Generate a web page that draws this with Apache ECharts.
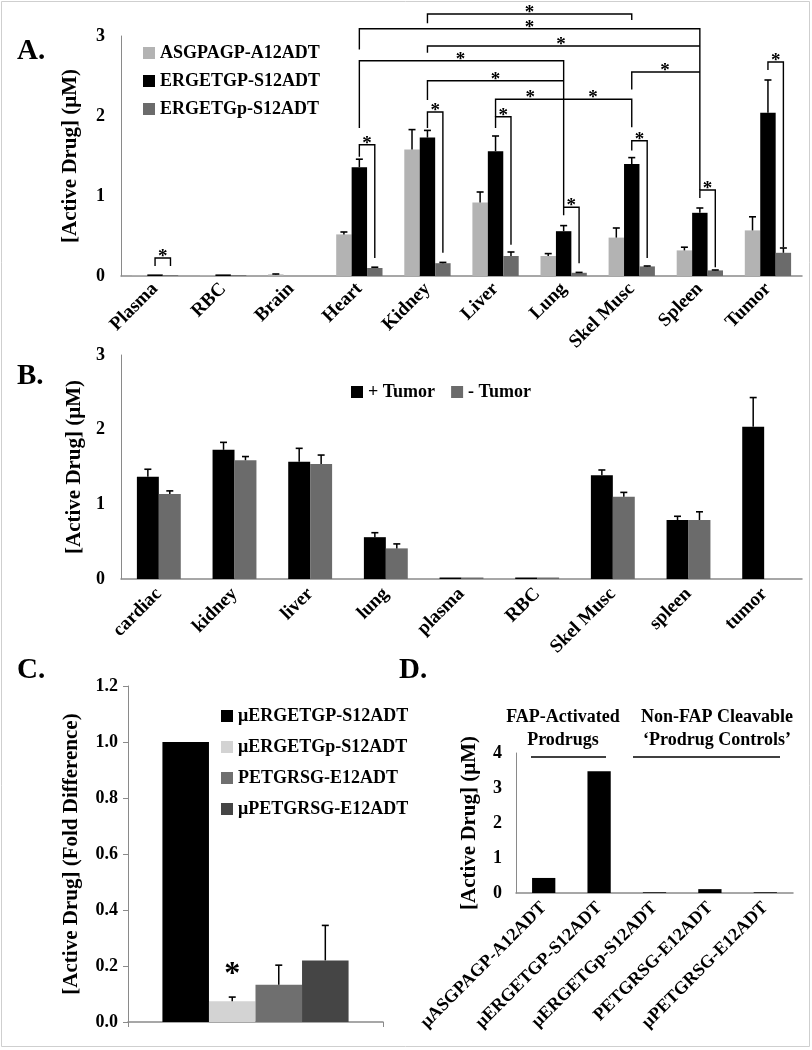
<!DOCTYPE html>
<html><head><meta charset="utf-8">
<script src="https://cdn.jsdelivr.net/npm/echarts@6/dist/echarts.min.js"></script>
<style>html,body{margin:0;padding:0;background:#fff}#c{width:812px;height:1050px}</style>
</head><body><div id="c"></div>
<script>
// ---------- Panel A data ----------
const catsA = ['Plasma','RBC','Brain','Heart','Kidney','Liver','Lung','Skel Musc','Spleen','Tumor'];
const namesA = ['ASGPAGP-A12ADT','ERGETGP-S12ADT','ERGETGp-S12ADT'];
const asgA   = [0.01,0.01,0.02,0.52,1.58,0.92,0.25,0.48,0.32,0.57];
const asgSdA = [0,0,0.005,0.03,0.25,0.13,0.03,0.12,0.04,0.17];
const ergA   = [0.02,0.02,0,1.36,1.73,1.56,0.56,1.40,0.79,2.04];
const ergSdA = [0,0,0,0.10,0.09,0.19,0.07,0.08,0.06,0.41];
const ergpA  = [0.01,0.01,0,0.10,0.16,0.25,0.04,0.12,0.07,0.29];
const ergpSdA= [0,0,0,0.01,0.01,0.05,0.005,0.005,0.005,0.06];
const ticksA = [0,1,2,3];
// significance brackets: [cat1, slot1, cat2, slot2, top, end1, end2, starFrac1, starFrac2]
const bracketsA = [
  [4,1,7,1,3.275,3.16,3.20,0.5,-1],
  [3,1,8,1,3.09,2.83,1.075,0.5,-1],
  [4,1,8,1,2.875,2.79,2.875,0.49,-1],
  [3,1,6,1,2.69,1.85,0.86,0.495,-1],
  [4,1,6,1,2.44,2.20,2.44,0.5,-1],
  [7,1,8,1,2.55,2.33,2.55,0.49,-1],
  [5,1,7,1,2.21,1.99,1.86,0.255,0.715],
  [0,1,0,2,0.225,0.125,0.125,0.5,-1],
  [3,1,3,2,1.64,1.49,0.225,0.5,-1],
  [4,1,4,2,2.05,1.85,0.29,0.5,-1],
  [5,1,5,2,1.99,1.85,0.39,0.5,-1],
  [6,1,6,2,0.86,0.76,0.16,0.5,-1],
  [7,1,7,2,1.69,1.57,0.225,0.5,-1],
  [8,1,8,2,1.075,0.975,0.11,0.5,-1],
  [9,1,9,2,2.675,2.575,0.36,0.5,-1]
];
// ---------- Panel B data ----------
const catsB = ['cardiac','kidney','liver','lung','plasma','RBC','Skel Musc','spleen','tumor'];
const namesB = ['+ Tumor','- Tumor'];
const plusB   = [1.37,1.73,1.57,0.56,0.02,0.02,1.39,0.79,2.04];
const plusSdB = [0.10,0.10,0.18,0.06,0,0,0.07,0.05,0.39];
const minusB  = [1.14,1.59,1.54,0.41,0.02,0.02,1.10,0.79,null];
const minusSdB= [0.04,0.05,0.12,0.06,0,0,0.06,0.11,null];
// ---------- Panel C data ----------
const catsC = [''];
const namesC = ['μERGETGP-S12ADT','μERGETGp-S12ADT','PETGRSG-E12ADT','μPETGRSG-E12ADT'];
const valsC = [1.0,0.074,0.133,0.22];
const sdC   = [0,0.015,0.07,0.125];
const starsC = [[0,1,0.19]];
// ---------- Panel D data ----------
const catsD = ['μASGPAGP-A12ADT','μERGETGP-S12ADT','μERGETGp-S12ADT','PETGRSG-E12ADT','μPETGRSG-E12ADT'];
const valsD = [0.43,3.48,0.02,0.11,0.02];

const FONT = '"Liberation Serif","Times New Roman",serif';
const AX = '#8a8a8a';
const GAP_A = 0.32, GAP_B = 0.42, GAP_C = 0.27, GAP_D = 0.58;

function slotOff(api, slot, n, gap){
  const band = api.size([1,0])[0];
  const bw = band*(1-gap)/n;
  return (slot-(n-1)/2)*bw;
}
function errSeries(ai, vals, sds, slot, n, gap){
  const data = [];
  vals.forEach((v,i)=>{ if(v!=null && sds[i]>0) data.push([i, v, v+sds[i]]); });
  return {type:'custom', xAxisIndex:ai, yAxisIndex:ai, z:5, silent:true, data,
    encode:{x:0,y:[1,2]},
    renderItem(params, api){
      const c=api.value(0), v=api.value(1), t=api.value(2);
      const off = slotOff(api, slot, n, gap);
      const p0=api.coord([c,v]), p1=api.coord([c,t]);
      const x=p0[0]+off;
      return {type:'group', children:[
        {type:'line', shape:{x1:x,y1:p0[1],x2:x,y2:p1[1]}, style:{stroke:'#000',lineWidth:1.5}},
        {type:'line', shape:{x1:x-3.5,y1:p1[1],x2:x+3.5,y2:p1[1]}, style:{stroke:'#000',lineWidth:1.6}}
      ]};
    }};
}
function axisBase(gi, cats, extra){
  return Object.assign({type:'category', gridIndex:gi, data:cats,
    axisLine:{lineStyle:{color:AX,width:1.5}}, axisTick:{show:false},
    axisLabel:{rotate:45, margin:10, interval:0, color:'#000', fontFamily:FONT, fontWeight:'bold', fontSize:19}}, extra||{});
}
function yBase(gi, max, interval, name, gap, extra){
  return Object.assign({type:'value', gridIndex:gi, min:0, max, interval, splitLine:{show:false},
    axisLine:{show:true, lineStyle:{color:AX,width:1}}, axisTick:{show:false},
    axisLabel:{margin:16, color:'#000', fontFamily:FONT, fontWeight:'bold', fontSize:18},
    name, nameLocation:'middle', nameGap:gap, nameRotate:90,
    nameTextStyle:{color:'#000', fontFamily:FONT, fontWeight:'bold', fontSize:21}}, extra||{});
}
function bar(name, ai, data, color, gap, z){
  return {type:'bar', name, xAxisIndex:ai, yAxisIndex:ai, data, barGap:'0%', barCategoryGap:(gap*100)+'%',
    itemStyle:{color}, silent:true, z:z||2};
}
const legText = {color:'#000', fontFamily:FONT, fontWeight:'bold', fontSize:18};

const chart = echarts.init(document.getElementById('c'), null, {renderer:'canvas'});
const option = {
  animation:false,
  backgroundColor:'#fff',
  grid:[
    {left:121, top:36, width:681, height:240},
    {left:121, top:355, width:681, height:224},
    {left:128, top:686, width:255, height:336},
    {left:516, top:753, width:277, height:140}
  ],
  xAxis:[
    axisBase(0, catsA),
    axisBase(1, catsB, {axisLabel:{rotate:45, margin:12, interval:0, color:'#000', fontFamily:FONT, fontWeight:'bold', fontSize:19}}),
    axisBase(2, catsC, {axisLabel:{show:false}, axisTick:{show:true, length:5, lineStyle:{color:AX}}}),
    axisBase(3, catsD, {axisLabel:{rotate:45, margin:12, interval:0, color:'#000', fontFamily:FONT, fontWeight:'bold', fontSize:18}})
  ],
  yAxis:[
    yBase(0, 3, 1, '[Active Drug] (μM)', 40),
    yBase(1, 3, 1, '[Active Drug] (μM)', 36),
    yBase(2, 1.2, 0.2, '[Active Drug] (Fold Difference)', 46,
      {axisTick:{show:true, length:5, lineStyle:{color:AX}},
       axisLabel:{margin:10, color:'#000', fontFamily:FONT, fontWeight:'bold', fontSize:18, formatter:v=>v.toFixed(1)}}),
    yBase(3, 4, 1, '[Active Drug] (μM)', 36, {axisLabel:{margin:14, color:'#000', fontFamily:FONT, fontWeight:'bold', fontSize:18}})
  ],
  legend:[
    {data:namesA, orient:'vertical', left:138, top:39, itemWidth:12, itemHeight:12, itemGap:10, icon:'rect', textStyle:legText, selectedMode:false},
    {data:namesB, orient:'horizontal', left:346, top:378, itemWidth:12, itemHeight:12, itemGap:16, icon:'rect', textStyle:legText, selectedMode:false},
    {data:namesC, orient:'vertical', left:216, top:702, itemWidth:12, itemHeight:12, itemGap:13, icon:'rect', textStyle:legText, selectedMode:false}
  ],
  series:[
    bar(namesA[0],0,asgA,'#b3b3b3',GAP_A),
    bar(namesA[1],0,ergA,'#000000',GAP_A),
    bar(namesA[2],0,ergpA,'#6b6b6b',GAP_A),
    errSeries(0, asgA, asgSdA, 0, 3, GAP_A),
    errSeries(0, ergA, ergSdA, 1, 3, GAP_A),
    errSeries(0, ergpA, ergpSdA, 2, 3, GAP_A),
    {type:'custom', xAxisIndex:0, yAxisIndex:0, z:6, silent:true, clip:false, data:bracketsA,
      encode:{x:0, y:4},
      renderItem(params, api){
        const c1=api.value(0), s1=api.value(1), c2=api.value(2), s2=api.value(3);
        const top=api.value(4), e1=api.value(5), e2=api.value(6), f1=api.value(7), f2=api.value(8);
        const x1=api.coord([c1,0])[0]+slotOff(api,s1,3,GAP_A);
        const x2=api.coord([c2,0])[0]+slotOff(api,s2,3,GAP_A);
        const yT=api.coord([c1,top])[1], y1=api.coord([c1,e1])[1], y2=api.coord([c1,e2])[1];
        const ch=[{type:'polyline', shape:{points:[[x1,y1],[x1,yT],[x2,yT],[x2,y2]]}, style:{stroke:'#000', lineWidth:1.4, fill:null}}];
        [f1,f2].forEach(f=>{ if(f>=0) ch.push({type:'text', style:{text:'*', x:x1+(x2-x1)*f, y:yT-1, align:'center', verticalAlign:'middle', font:'bold 19px '+FONT, fill:'#000'}}); });
        return {type:'group', children:ch};
      }},
    bar(namesB[0],1,plusB,'#000000',GAP_B),
    bar(namesB[1],1,minusB,'#6b6b6b',GAP_B),
    errSeries(1, plusB, plusSdB, 0, 2, GAP_B),
    errSeries(1, minusB, minusSdB, 1, 2, GAP_B),
    bar(namesC[0],2,[valsC[0]],'#000000',GAP_C),
    bar(namesC[1],2,[valsC[1]],'#d3d3d3',GAP_C),
    bar(namesC[2],2,[valsC[2]],'#6f6f6f',GAP_C),
    bar(namesC[3],2,[valsC[3]],'#454545',GAP_C),
    ...[0,1,2,3].map(k=>{
      const vals=[valsC[k]], sds=[sdC[k]];
      return errSeries(2, vals, sds, k, 4, GAP_C);
    }),
    {type:'custom', xAxisIndex:2, yAxisIndex:2, z:6, silent:true, clip:false, data:starsC,
      encode:{x:0,y:2},
      renderItem(params, api){
        const p=api.coord([api.value(0), api.value(2)]);
        const x=p[0]+slotOff(api, api.value(1), 4, GAP_C);
        return {type:'text', style:{text:'*', x, y:p[1]+6, align:'center', verticalAlign:'middle', font:'bold 32px '+FONT, fill:'#000'}};
      }},
    {type:'bar', name:'D', xAxisIndex:3, yAxisIndex:3, data:valsD, barCategoryGap:(GAP_D*100)+'%', itemStyle:{color:'#000'}, silent:true}
  ],
  graphic:[
    {type:'rect', shape:{x:1.5,y:1.5,width:808,height:1045}, style:{fill:null, stroke:'#cfcfcf', lineWidth:1}, silent:true},
    {type:'text', left:17, top:37, style:{text:'A.', font:'bold 29px '+FONT, fill:'#000'}},
    {type:'text', left:17, top:362, style:{text:'B.', font:'bold 29px '+FONT, fill:'#000'}},
    {type:'text', left:17, top:656, style:{text:'C.', font:'bold 29px '+FONT, fill:'#000'}},
    {type:'text', left:399, top:656, style:{text:'D.', font:'bold 29px '+FONT, fill:'#000'}},
    {type:'text', x:563, y:706, style:{text:'FAP-Activated\nProdrugs', align:'center', lineHeight:23, font:'bold 18px '+FONT, fill:'#000'}},
    {type:'text', x:717, y:706, style:{text:'Non-FAP Cleavable\n‘Prodrug Controls’', align:'center', lineHeight:23, font:'bold 18px '+FONT, fill:'#000'}},
    {type:'line', shape:{x1:531,y1:757,x2:606,y2:757}, style:{stroke:'#000', lineWidth:1.5}},
    {type:'line', shape:{x1:633,y1:757,x2:780,y2:757}, style:{stroke:'#000', lineWidth:1.5}}
  ]
};
chart.setOption(option);
</script></body></html>
